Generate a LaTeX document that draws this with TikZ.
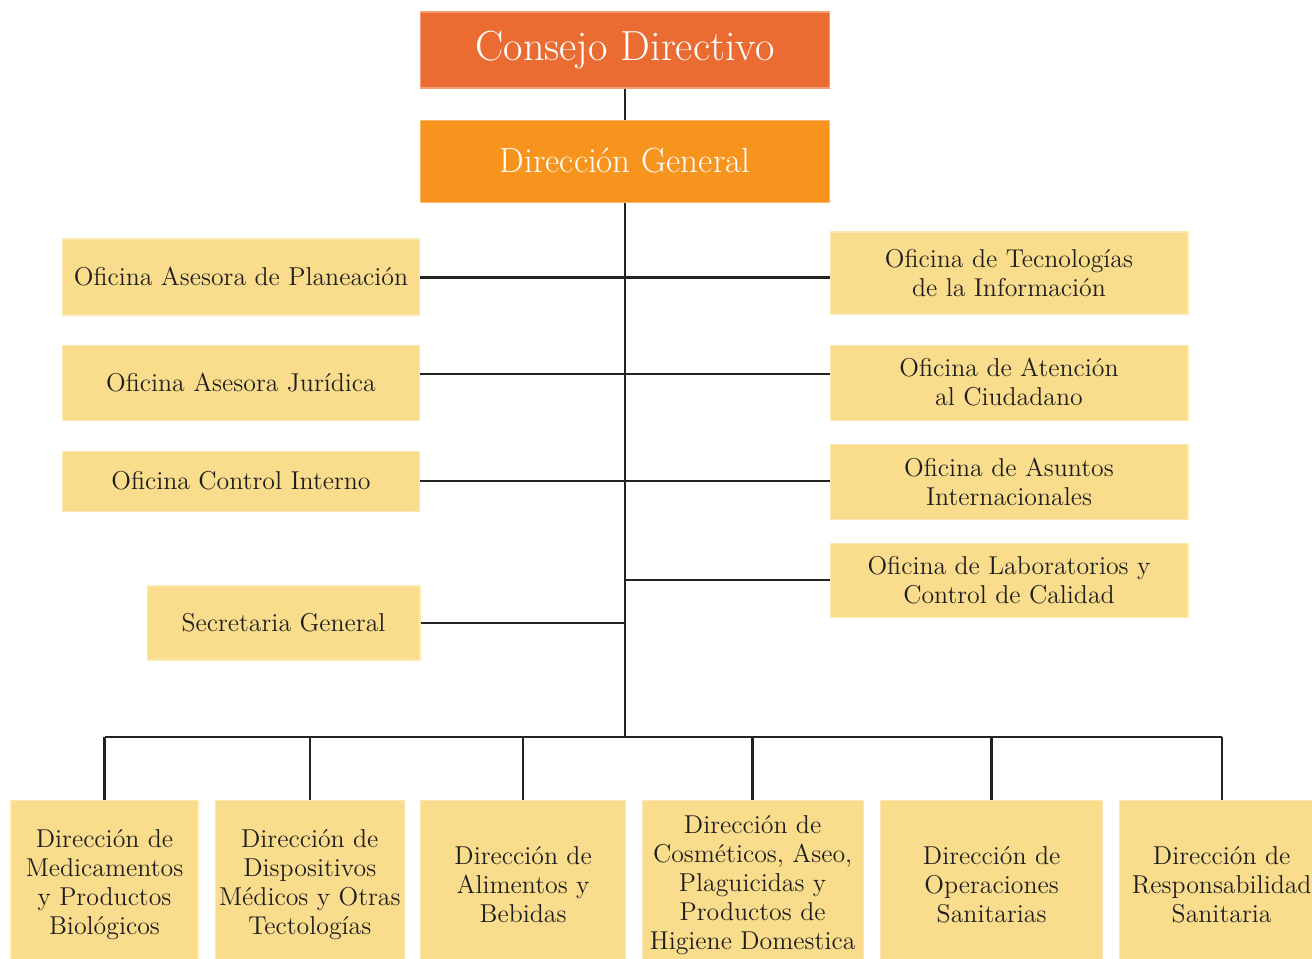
\documentclass[tikz,border=0pt]{standalone}
\usepackage{tikz}
\usetikzlibrary{positioning}
\definecolor{councilorange}{RGB}{234,108,50}
\definecolor{councilborder}{RGB}{243,160,120}
\definecolor{generalorange}{RGB}{247,148,30}
\definecolor{generalborder}{RGB}{250,185,110}
\definecolor{boxyellow}{RGB}{250,221,140}
\definecolor{boxedge}{RGB}{252,232,178}
\definecolor{textdark}{RGB}{30,30,30}
\definecolor{linedark}{RGB}{35,35,35}

\begin{document}
\begin{tikzpicture}[
    x=0.02cm, y=-0.02cm,
    node distance=0.6cm,
    topbox/.style={rectangle, text=white, line width=0.6pt,
                minimum width=8.2cm, align=center},
    unitbox/.style={rectangle, draw=boxedge, fill=boxyellow, text=textdark, line width=0.6pt,
                align=center, inner sep=2pt, font=\fontsize{14.7}{16.5}\selectfont},
    link/.style={draw=linedark, line width=1.3pt}
]
    \useasboundingbox (0,0) rectangle (1312,958);
    \clip (0,0) rectangle (1312,958);

    % Nodes
    \node[topbox, fill=councilorange, draw=councilborder, minimum height=1.52cm,
          font=\fontsize{24}{28}\selectfont] (consejo) at (625,50) {Consejo Directivo};
    \node[topbox, fill=generalorange, draw=generalborder, minimum height=1.64cm,
          font=\fontsize{19.9}{23}\selectfont, below=0.62cm of consejo] (general) {Dirección General};

    \node[unitbox, minimum width=7.16cm, minimum height=1.52cm] (planeacion) at (241,277) {Oficina Asesora de Planeación};
    \node[unitbox, minimum width=7.16cm, minimum height=1.5cm, below=0.58cm of planeacion] (juridica) {Oficina Asesora Jurídica};
    \node[unitbox, minimum width=7.16cm, minimum height=1.2cm, below=0.6cm of juridica] (control) {Oficina Control Interno};
    \node[unitbox, minimum width=5.46cm, minimum height=1.48cm] (secretaria) at (283.5,623) {Secretaria General};

    \node[unitbox, minimum width=7.16cm, minimum height=1.64cm] (tecnologias) at (1009,273) {Oficina de Tecnologías\\de la Información};
    \node[unitbox, minimum width=7.16cm, minimum height=1.5cm, below=0.6cm of tecnologias] (atencion) {Oficina de Atención\\al Ciudadano};
    \node[unitbox, minimum width=7.16cm, minimum height=1.5cm, below=0.46cm of atencion] (asuntos) {Oficina de Asuntos\\Internacionales};
    \node[unitbox, minimum width=7.16cm, minimum height=1.48cm, below=0.46cm of asuntos] (laboratorios) {Oficina de Laboratorios y\\Control de Calidad};

    \node[unitbox, minimum width=3.74cm, minimum height=3.4cm] (medicamentos) at (104.5,885) {Dirección de\\Medicamentos\\y Productos\\Biológicos};
    \node[unitbox, minimum width=3.74cm, minimum height=3.4cm, right=0.33cm of medicamentos] (dispositivos) {Dirección de\\Dispositivos\\Médicos y Otras\\Tectologías};
    \node[unitbox, minimum width=4.1cm, minimum height=3.4cm, right=0.31cm of dispositivos] (alimentos) {Dirección de\\Alimentos y\\Bebidas};
    \node[unitbox, minimum width=4.42cm, minimum height=3.4cm, right=0.31cm of alimentos] (cosmeticos) {Dirección de\\Cosméticos, Aseo,\\Plaguicidas y\\Productos de\\Higiene Domestica};
    \node[unitbox, minimum width=4.44cm, minimum height=3.4cm, right=0.33cm of cosmeticos] (operaciones) {Dirección de\\Operaciones\\Sanitarias};
    \node[unitbox, minimum width=4.1cm, minimum height=3.4cm, right=0.31cm of operaciones] (responsabilidad) {Dirección de\\Responsabilidad\\Sanitaria};

    \coordinate (bus) at (625,737);

    % Lines
    \draw[link] (consejo) -- (general);
    \draw[link] (general) -- (bus);
    \draw[link] (planeacion.east |- 0,277.5) -- (tecnologias.west |- 0,277.5);
    \draw[link] (juridica.east |- 0,374) -- (atencion.west |- 0,374);
    \draw[link] (control.east) -- (control.east -| asuntos.west);
    \draw[link] (laboratorios.west) -- (laboratorios.west -| bus);
    \draw[link] (secretaria.east) -- (secretaria.east -| bus);
    \draw[link] (bus -| medicamentos) -- (bus -| responsabilidad);
    \foreach \unit in {medicamentos, dispositivos, alimentos, cosmeticos, operaciones, responsabilidad}
        \draw[link] (bus -| \unit) -- (\unit.north);
\end{tikzpicture}
\end{document}
